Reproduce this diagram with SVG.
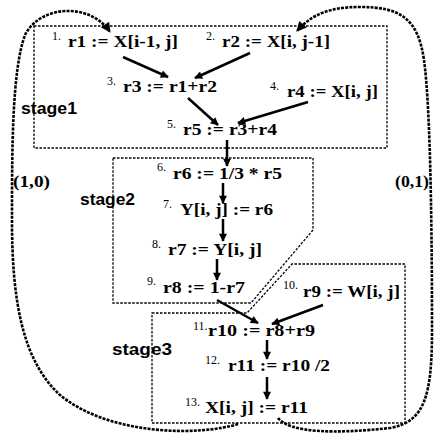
<svg xmlns="http://www.w3.org/2000/svg" width="436" height="435" viewBox="0 0 436 435">
<style>
.code{font-family:"Liberation Serif","Times New Roman",serif;font-weight:bold;font-size:16.5px;fill:#000}
.num{font-family:"Liberation Serif","Times New Roman",serif;font-size:12px;fill:#000}
.stage{font-family:"Liberation Sans",Arial,sans-serif;font-weight:bold;font-size:16px;fill:#000}
.box{fill:none;stroke:#000;stroke-width:1.3;stroke-dasharray:2.5 1.5}
.edge{fill:none;stroke:#000;stroke-width:2.5}
.loop{fill:none;stroke:#000;stroke-width:2.6;stroke-dasharray:3 1.2}
</style>
<defs>
<marker id="ah" viewBox="0 0 10 10" refX="9" refY="5" markerWidth="10" markerHeight="8" markerUnits="userSpaceOnUse" orient="auto">
<path d="M0,0 L10,5 L0,10 z" fill="#000"/>
</marker>
<marker id="ah2" viewBox="0 0 10 10" refX="9" refY="5" markerWidth="13" markerHeight="10" markerUnits="userSpaceOnUse" orient="auto">
<path d="M0,0 L10,5 L0,10 z" fill="#000"/>
</marker>
</defs>
<rect width="436" height="435" fill="#fff"/>
<g id="stages">
<rect id="stage1-box" class="box" x="34" y="26" width="353" height="122"/>
<polygon id="stage2-box" class="box" points="113,158 313,158 313,230 251,303 113,303"/>
<polygon id="stage3-box" class="box" points="152,313 247,313 292,264 405,264 405,423 152,423"/>
<text class="stage" x="21" y="114" textLength="56" lengthAdjust="spacingAndGlyphs">stage1</text>
<text class="stage" x="80" y="205" textLength="55" lengthAdjust="spacingAndGlyphs">stage2</text>
<text class="stage" x="112" y="355" textLength="60" lengthAdjust="spacingAndGlyphs">stage3</text>
</g>
<g id="connectors">
<line class="edge" x1="123" y1="57" x2="168" y2="77" marker-end="url(#ah)"/>
<line class="edge" x1="250" y1="53" x2="195" y2="78" marker-end="url(#ah)"/>
<line class="edge" x1="188" y1="98" x2="218" y2="125" marker-end="url(#ah)"/>
<line class="edge" x1="308" y1="102" x2="238" y2="123" marker-end="url(#ah)"/>
<line class="edge" x1="227" y1="140" x2="227" y2="166" marker-end="url(#ah)"/>
<line class="edge" x1="223" y1="183" x2="223" y2="203" marker-end="url(#ah)"/>
<line class="edge" x1="223" y1="219" x2="223" y2="241" marker-end="url(#ah)"/>
<line class="edge" x1="217" y1="259" x2="217" y2="280" marker-end="url(#ah)"/>
<line class="edge" x1="217" y1="300" x2="258" y2="323" marker-end="url(#ah)"/>
<line class="edge" x1="323" y1="305" x2="272" y2="324" marker-end="url(#ah)"/>
<line class="edge" x1="267" y1="340" x2="267" y2="359" marker-end="url(#ah)"/>
<line class="edge" x1="267" y1="377" x2="267" y2="399" marker-end="url(#ah)"/>
<path class="loop" d="M238,424 C200,436 110,436 60,395 C22,360 12,300 12,220 C12,150 12,70 25,35 C40,5 90,2 110,32" marker-end="url(#ah2)"/>
<path class="loop" d="M278,418 C290,433 335,434 390,428 C425,422 432,395 432,330 C432,250 431,110 424,60 C418,18 400,7 360,7 C330,7 312,14 297,31" marker-end="url(#ah2)"/>
<text class="code" x="13" y="187" textLength="37" lengthAdjust="spacingAndGlyphs">(1,0)</text>
<text class="code" x="395" y="187" textLength="34" lengthAdjust="spacingAndGlyphs">(0,1)</text>
</g>
<g id="n1"><text class="num" x="52" y="40">1.</text><text class="code" x="68" y="47" textLength="110" lengthAdjust="spacingAndGlyphs">r1 := X[i-1, j]</text></g>
<g id="n2"><text class="num" x="206" y="40">2.</text><text class="code" x="222" y="47" textLength="108" lengthAdjust="spacingAndGlyphs">r2 := X[i, j-1]</text></g>
<g id="n3"><text class="num" x="107" y="85">3.</text><text class="code" x="123" y="92" textLength="94" lengthAdjust="spacingAndGlyphs">r3 := r1+r2</text></g>
<g id="n4"><text class="num" x="270" y="90">4.</text><text class="code" x="287" y="97" textLength="91" lengthAdjust="spacingAndGlyphs">r4 := X[i, j]</text></g>
<g id="n5"><text class="num" x="167" y="128">5.</text><text class="code" x="183" y="135" textLength="94" lengthAdjust="spacingAndGlyphs">r5 := r3+r4</text></g>
<g id="n6"><text class="num" x="157" y="171">6.</text><text class="code" x="173" y="179" textLength="109" lengthAdjust="spacingAndGlyphs">r6 := 1/3 * r5</text></g>
<g id="n7"><text class="num" x="163" y="208">7.</text><text class="code" x="180" y="215" textLength="93" lengthAdjust="spacingAndGlyphs">Y[i, j] := r6</text></g>
<g id="n8"><text class="num" x="152" y="248">8.</text><text class="code" x="168" y="255" textLength="94" lengthAdjust="spacingAndGlyphs">r7 := Y[i, j]</text></g>
<g id="n9"><text class="num" x="147" y="285">9.</text><text class="code" x="163" y="293" textLength="82" lengthAdjust="spacingAndGlyphs">r8 := 1-r7</text></g>
<g id="n10"><text class="num" x="283" y="289">10.</text><text class="code" x="303" y="297" textLength="97" lengthAdjust="spacingAndGlyphs">r9 := W[i, j]</text></g>
<g id="n11"><text class="num" x="193" y="330">11.</text><text class="code" x="208" y="336" textLength="107" lengthAdjust="spacingAndGlyphs">r10 := r8+r9</text></g>
<g id="n12"><text class="num" x="205" y="364">12.</text><text class="code" x="228" y="371" textLength="102" lengthAdjust="spacingAndGlyphs">r11 := r10 /2</text></g>
<g id="n13"><text class="num" x="185" y="406">13.</text><text class="code" x="205" y="413" textLength="103" lengthAdjust="spacingAndGlyphs">X[i, j] := r11</text></g>
</svg>
